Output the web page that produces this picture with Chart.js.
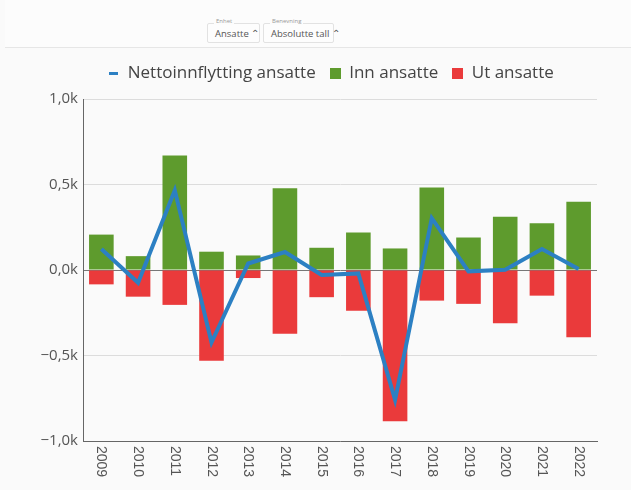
<!DOCTYPE html>
<html>
<head>
<meta charset="utf-8">
<script src="https://cdn.jsdelivr.net/npm/chart.js@4/dist/chart.umd.min.js"></script>
<style>
  html, body { margin: 0; padding: 0; background: #fafafa; width: 631px; height: 490px; overflow: hidden; font-family: "Open Sans", sans-serif; }
  #header { position: absolute; left: 5px; top: 0; width: 626px; height: 47px; border-bottom: 1px solid #e6e6e6; background: #fcfcfc; }
  .sel { position: absolute; top: 23px; height: 20px; border: 1px solid #e2e2e2; border-radius: 2px; background: #fdfdfd; font-size: 9.5px; color: #555; line-height: 20px; padding: 0 7px; box-sizing: border-box; white-space: nowrap; }
  .sel .lab { position: absolute; top: -7px; left: 6px; font-size: 6px; line-height: 8px; color: #999; background: #fcfcfc; padding: 0 2px; }
  #wrap { position: absolute; left: 0; top: 48px; width: 631px; height: 442px; }
</style>
</head>
<body>
<div id="header">
  <div class="sel" style="left:202px;width:53px;"><span class="lab">Enhet</span>Ansatte &#8963;</div>
  <div class="sel" style="left:258px;width:71px;"><span class="lab">Benevning</span>Absolutte tall &#8963;</div>
</div>
<div id="wrap"><canvas id="c" width="631" height="442"></canvas></div>
<script>
const years = ['2009','2010','2011','2012','2013','2014','2015','2016','2017','2018','2019','2020','2021','2022'];
const innAnsatte = [207, 81, 670, 107, 85, 478, 130, 219, 126, 482, 190, 312, 273, 399];
const utAnsatte = [-84, -156, -204, -531, -47, -373, -159, -239, -885, -179, -198, -311, -150, -393];
const nettoAnsatte = [123, -75, 466, -424, 38, 105, -29, -20, -759, 303, -8, 1, 123, 6];
const yTickValues = [-1000, -500, 0, 500, 1000];
const seriesNames = ['Nettoinnflytting ansatte', 'Inn ansatte', 'Ut ansatte'];
const seriesColors = ['#2c80c3', '#5e9b2d', '#ea3a3b'];

function fmtTick(v) {
  const s = (Math.abs(v) / 1000).toFixed(1).replace('.', ',') + 'k';
  return v < 0 ? '\u2212' + s : s;
}

function iconCanvas(w, h, color) {
  const c = document.createElement('canvas');
  c.width = w; c.height = h;
  const g = c.getContext('2d');
  g.fillStyle = color;
  g.fillRect(0, 0, w, h);
  return c;
}
const lineIcon = iconCanvas(9, 3, seriesColors[0]);
const greenIcon = iconCanvas(11, 11, seriesColors[1]);
const redIcon = iconCanvas(11, 11, seriesColors[2]);

const legendSpacer = {
  id: 'legendSpacer',
  beforeInit(chart) {
    const lg = chart.legend;
    if (!lg) return;
    const orig = lg.fit.bind(lg);
    lg.fit = function () { orig(); this.height += 7; };
  },
  afterLayout(chart) {
    if (chart.legend) chart.legend.left = 65;
  }
};

const xLabelPlugin = {
  id: 'xLabelsCW',
  afterDraw(chart) {
    const ctx = chart.ctx;
    const xs = chart.scales.x;
    ctx.save();
    ctx.font = '14px "Liberation Sans", Arial, sans-serif';
    ctx.fillStyle = '#555';
    ctx.textAlign = 'left';
    ctx.textBaseline = 'middle';
    years.forEach((y, i) => {
      const x = xs.getPixelForTick(i);
      ctx.save();
      ctx.translate(x, chart.chartArea.bottom + 5);
      ctx.rotate(Math.PI / 2);
      ctx.fillText(y, 0, 0);
      ctx.restore();
    });
    ctx.restore();
  }
};

new Chart(document.getElementById('c'), {
  data: {
    labels: years,
    datasets: [
      { type: 'line', label: seriesNames[0], data: nettoAnsatte, borderColor: seriesColors[0], backgroundColor: seriesColors[0], borderWidth: 4, pointRadius: 0, pointHoverRadius: 0, tension: 0, stack: 'net', pointStyle: lineIcon },
      { type: 'bar', label: seriesNames[1], data: innAnsatte, backgroundColor: seriesColors[1], stack: 'bars', barPercentage: 0.67, categoryPercentage: 1.0, pointStyle: greenIcon },
      { type: 'bar', label: seriesNames[2], data: utAnsatte, backgroundColor: seriesColors[2], stack: 'bars', barPercentage: 0.67, categoryPercentage: 1.0, pointStyle: redIcon }
    ]
  },
  options: {
    responsive: false,
    animation: false,
    layout: { padding: { top: 3, right: 34, left: 0, bottom: 0 } },
    plugins: {
      legend: {
        position: 'top',
        labels: {
          usePointStyle: true,
          boxWidth: 11,
          boxHeight: 11,
          padding: 14,
          color: '#444',
          font: { family: '"Open Sans", sans-serif', size: 17 }
        }
      },
      tooltip: { enabled: false }
    },
    scales: {
      x: {
        stacked: true,
        grid: { display: false, drawTicks: false },
        border: { display: true, color: '#666', width: 1 },
        ticks: { color: 'rgba(0,0,0,0)', minRotation: 90, maxRotation: 90, font: { size: 14 } },
        afterFit(s) { s.height = 49; }
      },
      y: {
        stacked: true,
        min: -1000,
        max: 1000,
        afterBuildTicks(s) { s.ticks = yTickValues.map(v => ({ value: v })); },
        afterFit(s) { s.width = 83; },
        grid: {
          drawTicks: false,
          color: ctx => (ctx.tick && ctx.tick.value === 0 ? '#777' : '#dcdcdc'),
          lineWidth: 1
        },
        border: { display: true, color: '#666', width: 1 },
        ticks: {
          padding: 5,
          color: '#555',
          font: { family: '"Open Sans", sans-serif', size: 15 },
          callback: v => fmtTick(v)
        }
      }
    }
  },
  plugins: [xLabelPlugin, legendSpacer]
});
</script>
</body>
</html>
